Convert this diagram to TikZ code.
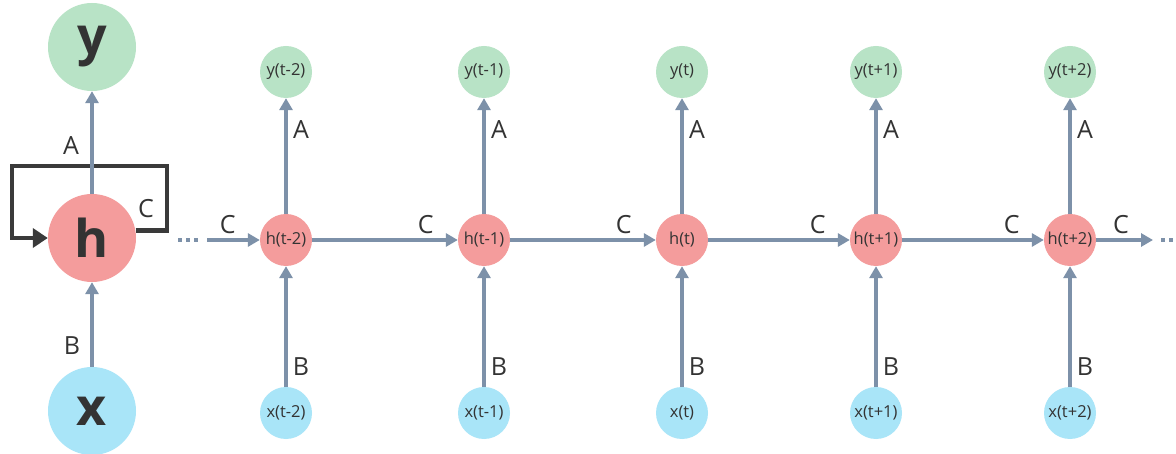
\documentclass[tikz,border=0pt]{standalone}
\usepackage{fontspec}
\setmainfont{Open Sans}
\usetikzlibrary{arrows.meta,calc}
\definecolor{cgreen}{HTML}{B8E3C6}
\definecolor{cpink}{HTML}{F49C9C}
\definecolor{ccyan}{HTML}{A9E5F8}
\definecolor{carrow}{HTML}{7D91A9}
\definecolor{ctext}{HTML}{333333}
\definecolor{cloop}{HTML}{3A3A3A}
\begin{document}
\begin{tikzpicture}[x=1pt,y=-1pt,
  bigc/.style={circle,inner sep=0pt,minimum size=88pt,text=ctext,font=\fontsize{52}{52}\selectfont\bfseries},
  smallc/.style={circle,inner sep=0pt,minimum size=52pt,text=ctext,font=\fontsize{16.5}{16.5}\selectfont},
  arr/.style={draw=carrow,line width=3.5pt,-{Triangle[length=12pt,width=13pt]}},
  dotline/.style={draw=carrow,line width=3.5pt,dash pattern=on 4pt off 4pt},
  loopline/.style={draw=cloop,line width=4.5pt,-{Triangle[length=15pt,width=19pt]}},
  lab/.style={text=ctext,inner sep=0pt,font=\fontsize{25}{25}\selectfont},
  clab/.style={lab,anchor=base,pos=1,xshift=-32pt,yshift=6pt}]
\useasboundingbox[fill=white] (0,0) rectangle (1176,454);
% folded network
\node[bigc,fill=cgreen] (y) at (92,47) {y};
\node[bigc,fill=cpink] (h) at (92,238) {h};
\node[bigc,fill=ccyan] (x) at (92,411) {x};
\coordinate (l2) at (167,166);
\coordinate (l3) at (12,166);
\draw[loopline] (h.10) -- (h.10 -| l2) -- (l2) -- (l3) -- (l3 |- h.west) -- (h.west);
\draw[arr] (h) -- (y);
\draw[arr] (x) -- (h);
\node[lab] (la) at (71,146) {A};
\node[lab] (lc) at (146,209) {C};
\node[lab] (lb) at (72,346) {B};
% unrolled network
\foreach \i/\px/\t in {1/286/t-2,2/484/t-1,3/682/t,4/876/t+1,5/1070/t+2}{
  \node[smallc,fill=cgreen] (y\i) at (\px,72) {y(\t)};
  \node[smallc,fill=cpink] (h\i) at (\px,240) {h(\t)};
  \node[smallc,fill=ccyan] (x\i) at (\px,413) {x(\t)};
  \draw[arr] (h\i) -- (y\i);
  \draw[arr] (x\i) -- (h\i);
  \node[lab] (a\i) at (\px+15,130) {A};
  \node[lab] (b\i) at (\px+15,367) {B};
}
\coordinate (d1) at (178,240);
\coordinate (d2) at (201,240);
\coordinate (s0) at (207,240);
\draw[dotline] (d1) -- (d2);
\draw[arr] (s0) -- (h1) node[clab] {C};
\foreach \i [evaluate=\i as \j using int(\i+1)] in {1,...,4}{
  \draw[arr] (h\i) -- (h\j) node[clab] {C};
}
\coordinate (e) at (1153,240);
\coordinate (d3) at (1161,240);
\coordinate (d4) at (1180,240);
\draw[arr] (h5) -- (e) node[clab] {C};
\draw[dotline] (d3) -- (d4);
\end{tikzpicture}
\end{document}
